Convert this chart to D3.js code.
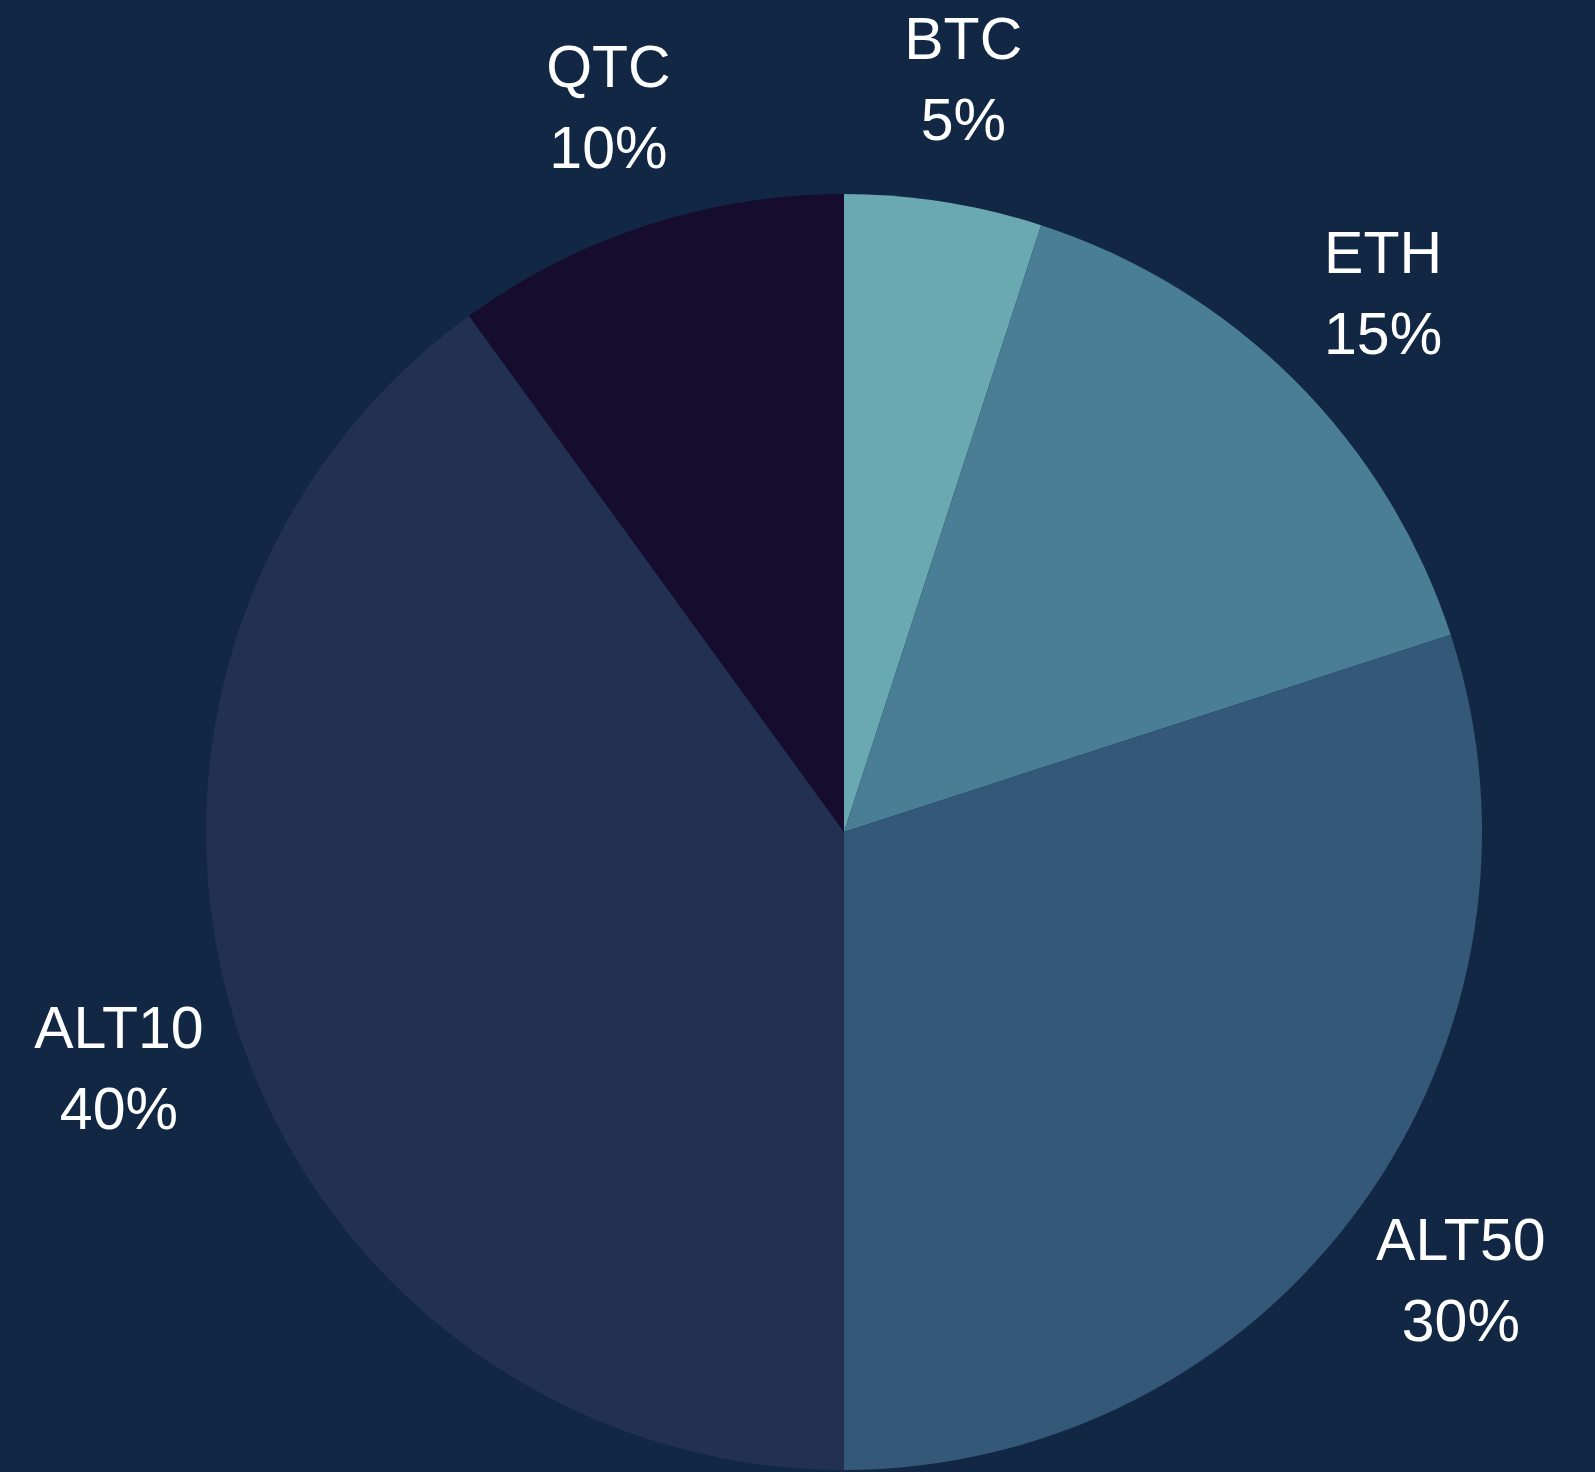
<!DOCTYPE html>
<html>
<head>
<meta charset="utf-8">
<script src="https://cdn.jsdelivr.net/npm/d3@7"></script>
<style>
  body { margin: 0; background: #122744; }
  svg { display: block; }
</style>
</head>
<body>
<script>
var coins = ["BTC", "ETH", "ALT50", "ALT10", "QTC"];
var shares = [5, 15, 30, 40, 10];
var colors = ["#6aa9b2", "#4a7e95", "#345878", "#223051", "#160c2e"];

var width = 1595,
    height = 1472,
    cx = 844, cy = 832,
    radius = 638;

var data = coins.map(function(c, i) { return {name: c, value: shares[i], color: colors[i]}; });

var svg = d3.select("body").append("svg")
    .attr("width", width)
    .attr("height", height);

svg.append("rect")
    .attr("width", width)
    .attr("height", height)
    .attr("fill", "#122744");

var g = svg.append("g")
    .attr("transform", "translate(" + cx + "," + cy + ")");

var pie = d3.pie().sort(null).value(function(d) { return d.value; });
var arc = d3.arc().innerRadius(0).outerRadius(radius);
// labels sit a bit outside the pie
var labelArc = d3.arc().innerRadius(radius * 1.195).outerRadius(radius * 1.195);

var slices = pie(data);

g.selectAll("path")
    .data(slices)
    .enter().append("path")
    .attr("d", arc)
    .attr("fill", function(d) { return d.data.color; });

var label = g.selectAll("text")
    .data(slices)
    .enter().append("text")
    .attr("transform", function(d) { return "translate(" + labelArc.centroid(d) + ")"; })
    .attr("text-anchor", "middle")
    .style("font-family", "'Liberation Sans', Arial, sans-serif")
    .style("font-size", "59px")
    .attr("fill", "#ffffff");

label.append("tspan")
    .attr("x", 0)
    .attr("y", -20)
    .text(function(d) { return d.data.name; });

label.append("tspan")
    .attr("x", 0)
    .attr("y", 61)
    .text(function(d) { return d.data.value + "%"; });
</script>
</body>
</html>
